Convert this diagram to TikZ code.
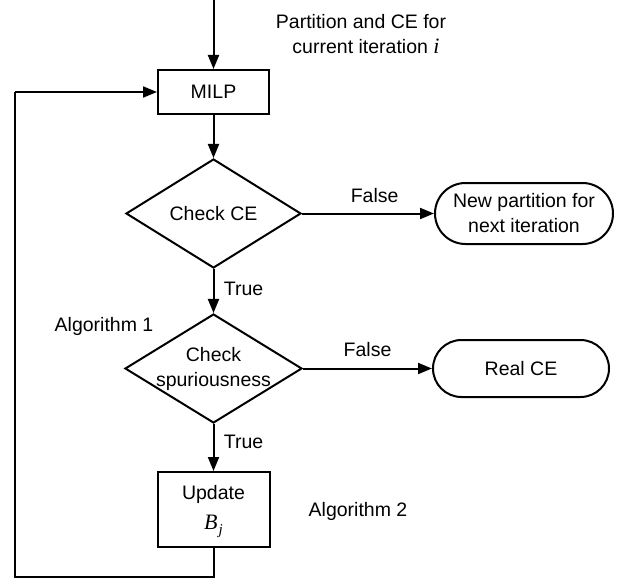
\documentclass[tikz,border=0pt]{standalone}
\usepackage{fontspec}
\setmainfont{Liberation Sans}
\newfontfamily\serifit{Liberation Serif}
\usetikzlibrary{arrows.meta,shapes.geometric}
\begin{document}
\begin{tikzpicture}[x=1pt,y=-1pt,
  every node/.style={font=\fontsize{19.5}{25}\selectfont},
  line/.style={line width=2pt},
  arr/.style={line, -{Triangle[length=14pt,width=11pt]}},
  procbox/.style={draw, line width=2pt, rectangle, inner sep=0pt, align=center},
  decide/.style={draw, line width=2pt, diamond, inner sep=0pt},
  term/.style={draw, line width=2pt, rectangle, inner sep=0pt, align=center},
  plain/.style={inner sep=0pt, align=center}]
\useasboundingbox (0,0) rectangle (626,583);
\coordinate (start) at (213.5,0);
\node[procbox, minimum width=111pt, minimum height=44pt] (milp) at (213.5,92) {MILP};
\node[decide, minimum width=175pt, minimum height=109pt,
      label={[plain]center:Check CE}] (ce) at (213.5,213.5) {};
\node[term, minimum width=178pt, minimum height=61pt, rounded corners=30.5pt] (newp) at (524,213.5) {New partition for\\next iteration};
\node[decide, minimum width=177pt, minimum height=109pt,
      label={[plain]center:Check\\spuriousness}] (spur) at (213.5,368.5) {};
\node[term, minimum width=176pt, minimum height=57pt, rounded corners=28.5pt] (real) at (521,368.5) {Real CE};
\node[procbox, minimum width=112pt, minimum height=75pt] (upd) at (213.5,509.5) {};
\node[plain] (updtxt) at (213.5,512)
  {Update\\[5pt]{\serifit\itshape\fontsize{22}{22}\selectfont B\kern1pt\raisebox{-5pt}{\fontsize{15}{15}\selectfont j}}};
\coordinate (c1) at (213.5,577);
\coordinate (c2) at (15,577);
\coordinate (c3) at (15,92);
\node[plain] (toptxt) at (361,34.5) {Partition and CE for\\\hspace*{10pt}current iteration {\serifit\itshape\fontsize{22}{22}\selectfont i}};
\node[plain] (alg1) at (104,326) {Algorithm 1};
\node[plain] (alg2) at (358,511) {Algorithm 2};

\draw[arr] (start) -- (milp);
\draw[arr] (milp) -- (ce);
\draw[arr] (ce) -- node[plain, pos=0.55, yshift=18pt] (f1) {False} (newp);
\draw[arr] (ce) -- node[plain, pos=0.46, xshift=30pt] (t1) {True} (spur);
\draw[arr] (spur) -- node[plain, pos=0.5, yshift=18.5pt] (f2) {False} (real);
\draw[arr] (spur) -- node[plain, pos=0.37, xshift=30pt] (t2) {True} (upd);
\draw[line] (upd.south) -- (c1) -- (c2) -- (c3);
\draw[arr] (c3) -- (milp.west);
\end{tikzpicture}
\end{document}
